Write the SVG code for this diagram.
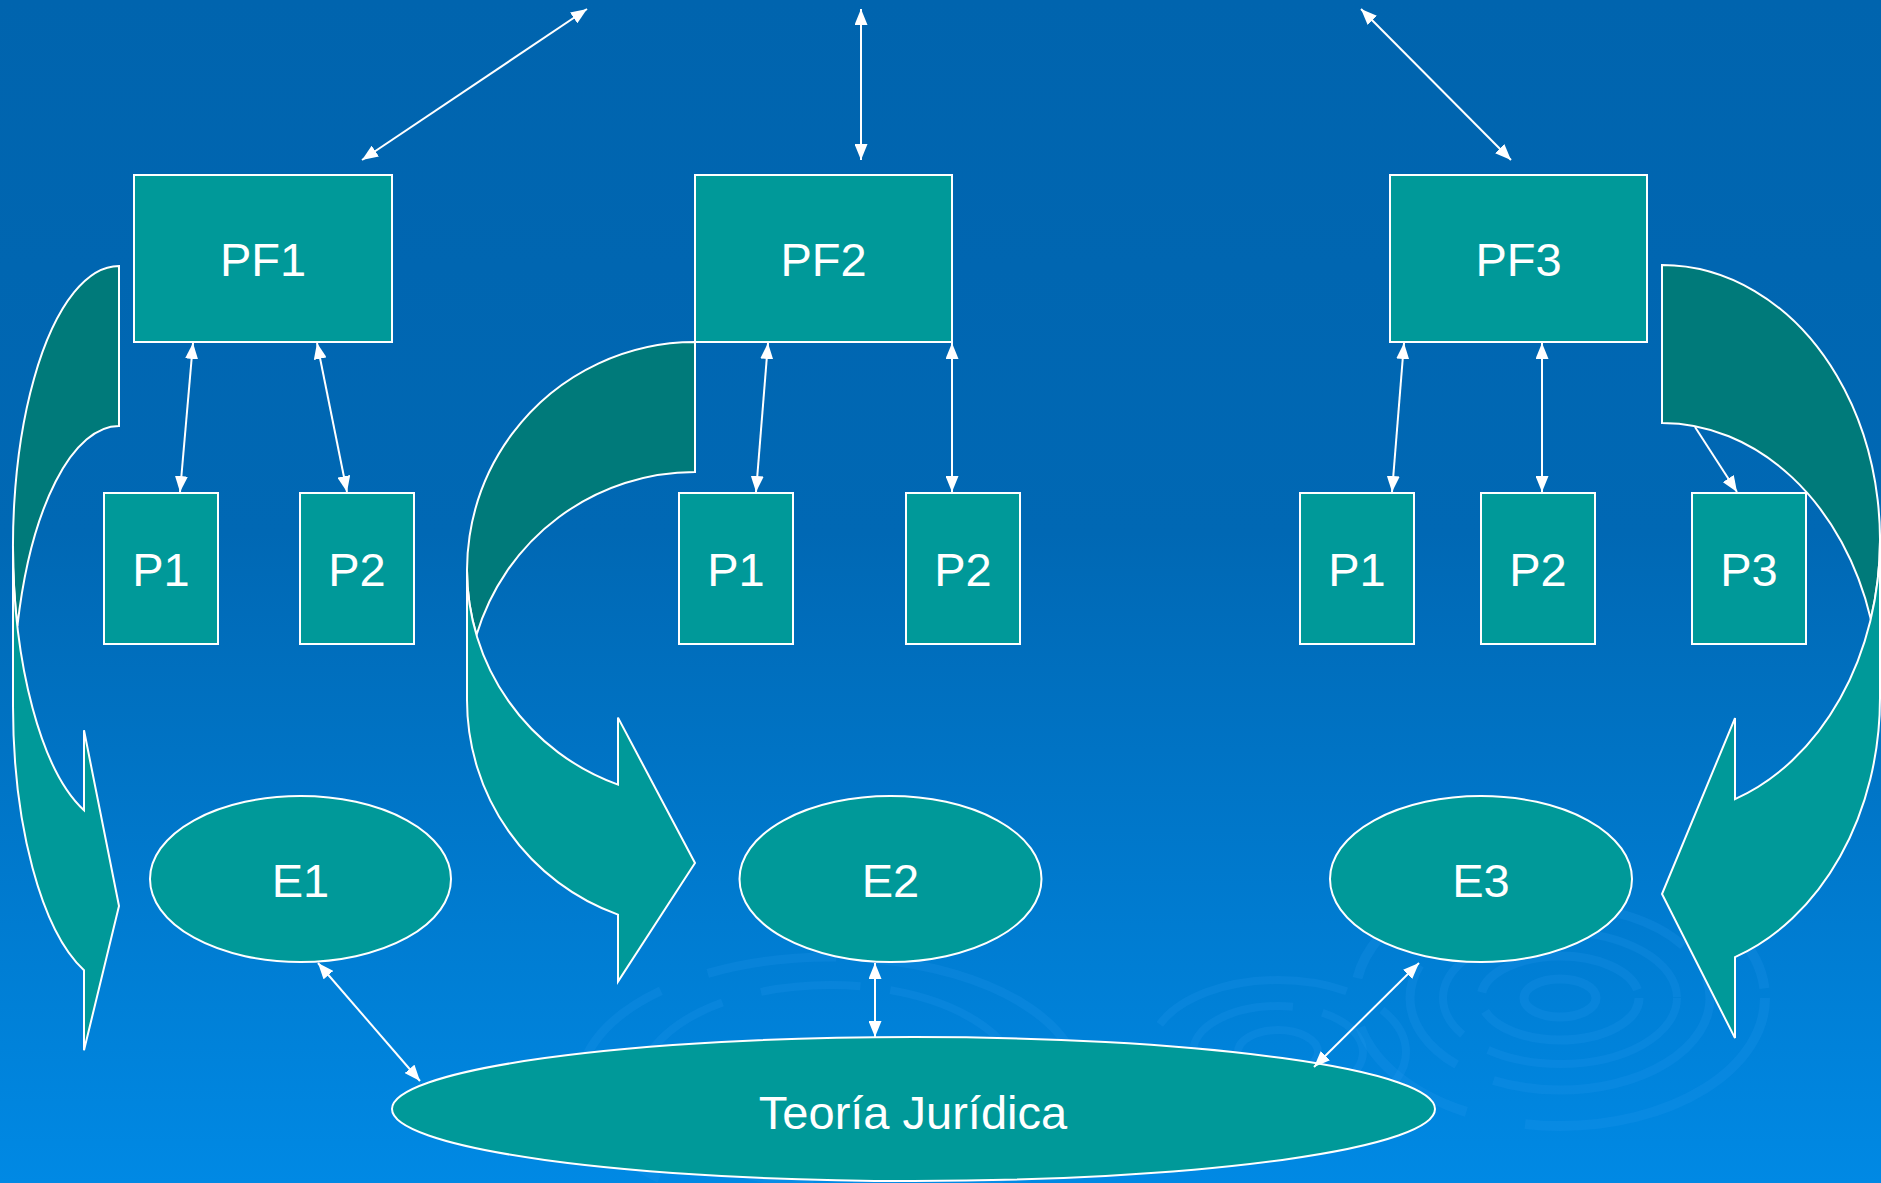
<svg xmlns="http://www.w3.org/2000/svg" width="1881" height="1183" viewBox="0 0 1881 1183">
  <defs>
    <linearGradient id="bg" x1="0" y1="0" x2="0" y2="1">
      <stop offset="0" stop-color="#0064AE"/>
      <stop offset="0.45" stop-color="#0068B4"/>
      <stop offset="1" stop-color="#0089E4"/>
    </linearGradient>
    <marker id="ah" viewBox="0 0 16 13" markerWidth="16" markerHeight="13" refX="16" refY="6.5" orient="auto-start-reverse" markerUnits="userSpaceOnUse">
      <path d="M0,0 L16,6.5 L0,13 Z" fill="#FFFFFF"/>
    </marker>
  </defs>
  <style>
    .box { fill: #009999; stroke: #FFFFFF; stroke-width: 2; }
    .back { fill: #007A7A; stroke: #FFFFFF; stroke-width: 2; stroke-linejoin: miter; }
    .front { fill: #009999; stroke: #FFFFFF; stroke-width: 2; stroke-linejoin: miter; }
    .lbl { fill: #FFFFFF; font-family: "Liberation Sans", Arial, sans-serif; font-size: 47px; text-anchor: middle; }
    .con { stroke: #FFFFFF; stroke-width: 2; fill: none; marker-start: url(#ah); marker-end: url(#ah); }
    .one { stroke: #FFFFFF; stroke-width: 2; fill: none; marker-end: url(#ah); }
    .rip { fill: none; stroke: #2A9CF2; opacity: 0.2; }
  </style>

  <rect x="0" y="0" width="1881" height="1183" fill="url(#bg)"/>

  <g id="ripples">
    <ellipse class="rip" cx="1560" cy="998" rx="36" ry="19" stroke-width="9"/>
    <ellipse class="rip" cx="1560" cy="998" rx="79" ry="42" stroke-width="9" stroke-dasharray="180 20"/>
    <ellipse class="rip" cx="1560" cy="998" rx="117" ry="66" stroke-width="8" stroke-dasharray="220 30 90 25"/>
    <ellipse class="rip" cx="1560" cy="998" rx="150" ry="92" stroke-width="9" stroke-dasharray="260 40 120 30"/>
    <ellipse class="rip" cx="1560" cy="998" rx="205" ry="128" stroke-width="10" stroke-dasharray="300 60 140 50"/>
    <ellipse class="rip" cx="1278" cy="1052" rx="40" ry="22" stroke-width="8"/>
    <ellipse class="rip" cx="1278" cy="1052" rx="85" ry="46" stroke-width="8" stroke-dasharray="150 30"/>
    <ellipse class="rip" cx="1278" cy="1052" rx="128" ry="72" stroke-width="8" stroke-dasharray="200 40 80 30"/>
    <ellipse class="rip" cx="830" cy="1085" rx="190" ry="100" stroke-width="8" stroke-dasharray="210 40 100 30"/>
    <ellipse class="rip" cx="830" cy="1085" rx="250" ry="128" stroke-width="9" stroke-dasharray="260 50 130 40"/>
  </g>

  <g id="curved-arrow-1">
    <path class="back" d="M119,426 A106,280 0 0 0 17.4,626 A106,280 0 0 1 119,266 Z"/>
    <path class="front" d="M13,546 A106,280 0 0 0 84,810.3 L84,730.3 L119,906 L84,1050.3 L84,970.3 A106,280 0 0 1 13,706 Z"/>
  </g>
  <g id="curved-arrow-2">
    <path class="back" d="M695,472 A228,228 0 0 0 476.5,635 A228,228 0 0 1 695,342 Z"/>
    <path class="front" d="M467,570 A228,228 0 0 0 618,784.6 L618,717.6 L695,863 L618,981.6 L618,914.6 A228,228 0 0 1 467,700 Z"/>
  </g>
  <g id="curved-arrow-3">
    <path class="back" d="M1662,423 A218,275 0 0 1 1870.8,619 A218,275 0 0 0 1662,265 Z"/>
    <path class="front" d="M1880,540 A218,275 0 0 1 1735,799.1 L1735,718.1 L1662,894 L1735,1038.1 L1735,957.1 A218,275 0 0 0 1880,698 Z"/>
  </g>

  <g id="PF1"><rect class="box" x="134" y="175" width="258" height="167"/><text class="lbl" x="263" y="276">PF1</text></g>
  <g id="PF2"><rect class="box" x="695" y="175" width="257" height="167"/><text class="lbl" x="823.5" y="276">PF2</text></g>
  <g id="PF3"><rect class="box" x="1390" y="175" width="257" height="167"/><text class="lbl" x="1518.5" y="276">PF3</text></g>

  <g id="PF1-P1"><rect class="box" x="104" y="493" width="114" height="151"/><text class="lbl" x="161" y="586">P1</text></g>
  <g id="PF1-P2"><rect class="box" x="300" y="493" width="114" height="151"/><text class="lbl" x="357" y="586">P2</text></g>
  <g id="PF2-P1"><rect class="box" x="679" y="493" width="114" height="151"/><text class="lbl" x="736" y="586">P1</text></g>
  <g id="PF2-P2"><rect class="box" x="906" y="493" width="114" height="151"/><text class="lbl" x="963" y="586">P2</text></g>
  <g id="PF3-P1"><rect class="box" x="1300" y="493" width="114" height="151"/><text class="lbl" x="1357" y="586">P1</text></g>
  <g id="PF3-P2"><rect class="box" x="1481" y="493" width="114" height="151"/><text class="lbl" x="1538" y="586">P2</text></g>
  <g id="PF3-P3"><rect class="box" x="1692" y="493" width="114" height="151"/><text class="lbl" x="1749" y="586">P3</text></g>

  <g id="E1"><ellipse class="box" cx="300.5" cy="879" rx="150.5" ry="83"/><text class="lbl" x="300.5" y="897">E1</text></g>
  <g id="E2"><ellipse class="box" cx="890.5" cy="879" rx="151" ry="83"/><text class="lbl" x="890.5" y="897">E2</text></g>
  <g id="E3"><ellipse class="box" cx="1481" cy="879" rx="151" ry="83"/><text class="lbl" x="1481" y="897">E3</text></g>

  <g id="TeoriaJuridica"><ellipse class="box" cx="913.5" cy="1109" rx="521.5" ry="72"/><text class="lbl" x="913" y="1129">Teoría Jurídica</text></g>

  <g id="connectors">
    <line class="con" x1="362" y1="160" x2="587" y2="9"/>
    <line class="con" x1="861" y1="160" x2="861" y2="9"/>
    <line class="con" x1="1511" y1="160" x2="1361" y2="9"/>

    <line class="con" x1="193" y1="343" x2="180" y2="492"/>
    <line class="con" x1="317" y1="343" x2="347" y2="492"/>
    <line class="con" x1="768" y1="343" x2="756" y2="492"/>
    <line class="con" x1="952" y1="343" x2="952" y2="492"/>
    <line class="con" x1="1404" y1="343" x2="1392" y2="492"/>
    <line class="con" x1="1542" y1="343" x2="1542" y2="492"/>
    <line class="one" x1="1695" y1="427" x2="1737" y2="492"/>

    <line class="con" x1="318" y1="963" x2="420" y2="1081"/>
    <line class="con" x1="875" y1="963" x2="875" y2="1037"/>
    <line class="con" x1="1419" y1="963" x2="1314" y2="1067"/>
  </g>
</svg>
